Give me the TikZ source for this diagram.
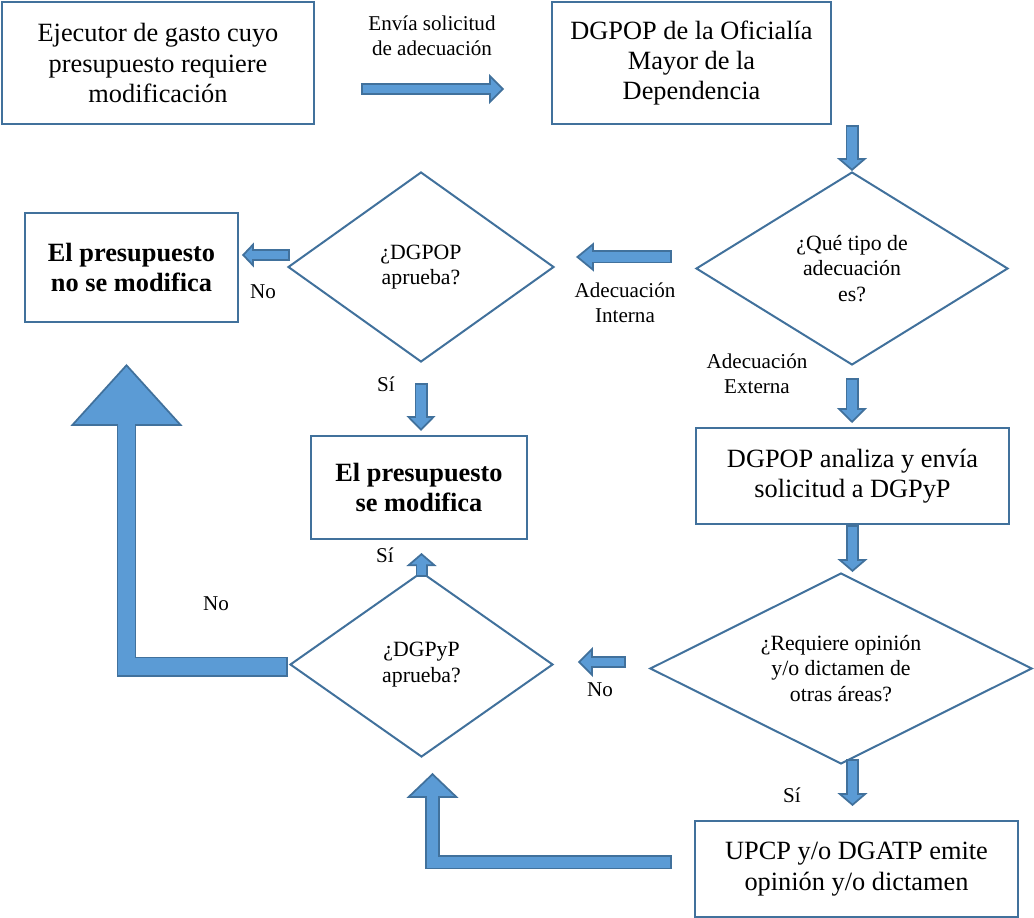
\documentclass[tikz,border=0pt]{standalone}
\usepackage{fontspec}
\setmainfont{Liberation Serif}
\usetikzlibrary{shapes.geometric,arrows.meta,calc}
\definecolor{edgeblue}{RGB}{65,113,156}
\definecolor{fillblue}{RGB}{91,155,213}

\begin{document}
\begin{tikzpicture}[x=0.02cm, y=-0.02cm,
    every node/.style={font=\fontsize{12}{14}\selectfont},
    caja/.style={rectangle, draw=edgeblue, line width=0.04cm, align=center, inner sep=0pt, font=\fontsize{15}{17.3}\selectfont},
    cajafuerte/.style={caja, font=\fontsize{15}{17.3}\selectfont\bfseries},
    decision/.style={diamond, aspect=2, draw=edgeblue, line width=0.04cm, align=center, inner sep=0pt, font=\fontsize{12.4}{14.4}\selectfont},
    etiqueta/.style={align=center, inner sep=0pt},
    fat/.style args={#1/#2/#3}{draw=edgeblue, line width=#1, line join=miter,
        -{Triangle[length=#2 0 0, width=#3 0 0, line width=0.035cm, fill=fillblue]},
        postaction={draw=fillblue, line width=#1-0.07cm, shorten <=0.035cm, shorten >=#2-0.08cm, -}}]

\useasboundingbox (0,0) rectangle (1034,918);

% Top row
\node[caja, minimum width=6.24cm, minimum height=2.44cm] (ejec) at (158,63) {Ejecutor de gasto cuyo\\presupuesto requiere\\modificación};
\node[caja, minimum width=5.58cm, minimum height=2.44cm] (dgpop) at (691.5,63) {DGPOP de la Oficialía\\Mayor de la\\Dependencia};

% Decisions
\node[decision, minimum width=6.24cm, minimum height=3.86cm] (tipo) at (852,268.5) {¿Qué tipo de\\adecuación\\es?};
\node[decision, minimum width=5.32cm, minimum height=3.8cm] (apr1) at (421,267) {¿DGPOP\\aprueba?};
\node[decision, minimum width=7.64cm, minimum height=3.82cm] (requiere) at (841,668.5) {¿Requiere opinión\\y/o dictamen de\\otras áreas?};
\node[decision, minimum width=5.26cm, minimum height=3.7cm] (apr2) at (421.5,664.5) {¿DGPyP\\aprueba?};

% Results
\node[cajafuerte, minimum width=4.26cm, minimum height=2.18cm] (nomod) at (131.5,267.5) {El presupuesto\\no se modifica};
\node[cajafuerte, minimum width=4.32cm, minimum height=2.06cm] (simod) at (419,487.5) {El presupuesto\\se modifica};

% Processes
\node[caja, minimum width=6.26cm, minimum height=1.92cm] (analiza) at (852.5,476) {DGPOP analiza y envía\\solicitud a DGPyP};
\node[caja, minimum width=6.46cm, minimum height=1.92cm] (upcp) at (856.5,869) {UPCP y/o DGATP emite\\opinión y/o dictamen};

% Labels
\node[etiqueta] (lblenvia) at (432,36) {Envía solicitud\\de adecuación};
\node[etiqueta] (lblint) at (625,303) {Adecuación\\Interna};
\node[etiqueta] (lblext) at (757,374) {Adecuación\\Externa};
\node[etiqueta] (lblno1) at (263,292) {No};
\node[etiqueta] (lblsi1) at (386,384) {Sí};
\node[etiqueta] (lblsi2) at (385,555) {Sí};
\node[etiqueta] (lblno2) at (216,604) {No};
\node[etiqueta] (lblno3) at (600,690) {No};
\node[etiqueta] (lblsi3) at (792,795) {Sí};

% Arrows
\draw[fat=0.24cm/0.3cm/0.6cm] ($(ejec.east)+(46,26)$) -- ($(dgpop.west)+(-47,26)$);
\draw[fat=0.26cm/0.26cm/0.6cm] (dgpop.south -| tipo.north) -- (tipo.north);
\draw[fat=0.26cm/0.36cm/0.58cm] ($(tipo.west)+(-23,-11.5)$) -- ($(apr1.east)+(21,-10)$);
\draw[fat=0.24cm/0.24cm/0.5cm] ($(apr1.west)+(3,-12)$) -- ($(nomod.east)+(3,-12.5)$);
\draw[fat=0.26cm/0.3cm/0.58cm] ($(apr1.south)+(0,20)$) -- ($(apr1.south |- simod.north)+(0,-4)$);
\draw[fat=0.26cm/0.3cm/0.6cm] ($(tipo.south)+(0,12)$) -- ($(tipo.south |- analiza.north)+(0,-4)$);
\draw[fat=0.26cm/0.26cm/0.6cm] (analiza.south) -- (analiza.south |- requiere.north);
\draw[fat=0.24cm/0.3cm/0.6cm] ($(requiere.west)+(-23,-6.5)$) -- ($(apr2.east)+(24,-2.5)$);
\draw[fat=0.24cm/0.26cm/0.6cm] ($(apr2.north)+(0,6)$) -- ($(apr2.north)+(0,-18)$);
\draw[fat=0.26cm/0.26cm/0.6cm] ($(analiza.south |- requiere.south)+(0,-6)$) -- ($(analiza.south |- upcp.north)+(0,-14)$);
\draw[fat=0.29cm/0.5cm/1.04cm] ($(upcp.west)+(-22,-7)$) -| ($(apr2.south)+(11,15)$);
\draw[fat=0.4cm/1.24cm/2.24cm] ($(apr2.west)+(-1,2)$) -| ($(nomod.south)+(-5,41)$);

\end{tikzpicture}
\end{document}
